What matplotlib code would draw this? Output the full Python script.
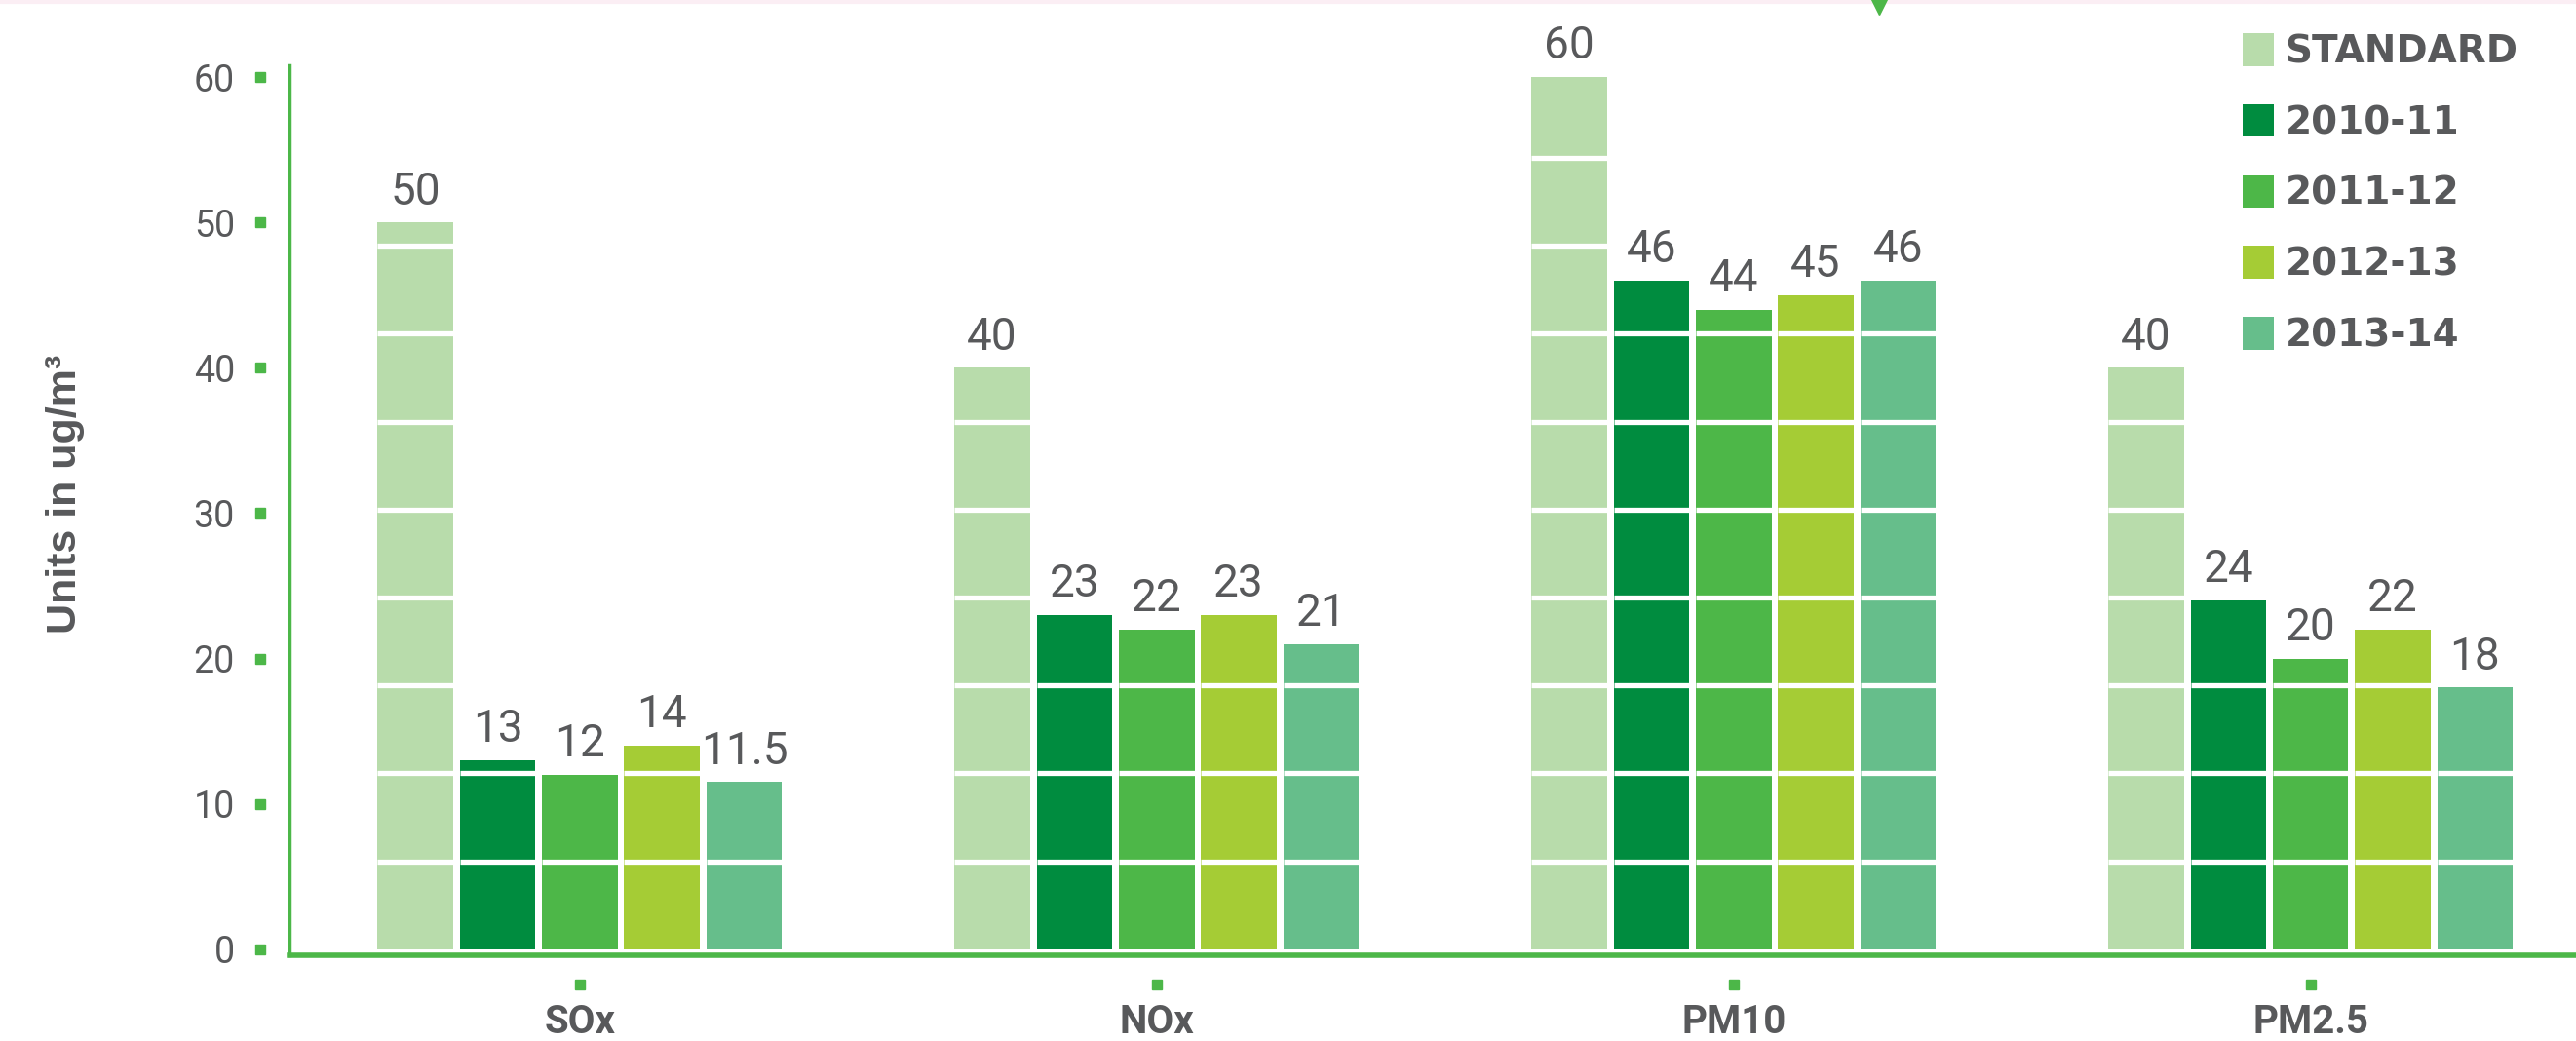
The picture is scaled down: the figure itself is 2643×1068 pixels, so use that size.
import numpy as np
import matplotlib
matplotlib.use("Agg")
import matplotlib.pyplot as plt
from matplotlib.lines import Line2D
from matplotlib.patches import Patch
from matplotlib import transforms

# 污染物年均浓度数据
pollutants = ["SOx", "NOx", "PM10", "PM2.5"]
series_names = ["STANDARD", "2010-11", "2011-12", "2012-13", "2013-14"]
standard = [50, 40, 60, 40]
y2010_11 = [13, 23, 46, 24]
y2011_12 = [12, 22, 44, 20]
y2012_13 = [14, 23, 45, 22]
y2013_14 = [11.5, 21, 46, 18]
y_ticks = [0, 10, 20, 30, 40, 50, 60]

colors = ["#b8dcab", "#008c3f", "#4db748", "#a5cc35", "#66be8b"]
axis_green = "#4cb748"
text_gray = "#58595b"
narrow = ["Roboto", "DejaVu Sans"]

all_series = [standard, y2010_11, y2011_12, y2012_13, y2013_14]

fig = plt.figure(figsize=(26.43, 10.68), dpi=100)
ax = fig.add_axes([0.1122, 0.082, 0.8878, 0.855])

x = np.arange(len(pollutants))
pitch = 0.1425
width = 0.131
stripe_step = 6.05

for i, (vals, c) in enumerate(zip(all_series, colors)):
    xs = x + (i - 2) * pitch
    ax.bar(xs, vals, width=width, color=c, linewidth=0, zorder=2)
    for xi, v in zip(xs, vals):
        # 柱内白色横条
        levels = np.arange(stripe_step, v - 0.3, stripe_step)
        ax.hlines(levels, xi - width / 2, xi + width / 2, color="white",
                  lw=3.8, zorder=3)
        label = f"{v:g}"
        ax.annotate(label, (xi, v), xytext=(0, 7), textcoords="offset points",
                    ha="center", va="bottom", fontsize=33, color=text_gray,
                    family=narrow)

ax.set_xlim(-0.504, 3.46)
ax.set_ylim(-0.45, 60.8)

for side in ["top", "right"]:
    ax.spines[side].set_visible(False)
ax.spines["left"].set_color(axis_green)
ax.spines["left"].set_linewidth(2.5)
ax.spines["bottom"].set_color(axis_green)
ax.spines["bottom"].set_linewidth(4)

ax.set_yticks(y_ticks)
ax.set_yticklabels([str(t) for t in y_ticks], fontsize=27, color=text_gray,
                   family=narrow)
ax.set_xticks(x)
ax.set_xticklabels(pollutants, fontsize=29, color=text_gray,
                   fontweight="bold", family=narrow)
ax.tick_params(axis="y", length=0, pad=40)
ax.tick_params(axis="x", length=0, pad=36)

# 刻度旁的小方块
ytr = transforms.offset_copy(ax.get_yaxis_transform(), fig, x=-21.6, units="points")
ax.plot(np.zeros(len(y_ticks)), y_ticks, "s", ms=7, color=axis_green,
        transform=ytr, clip_on=False)
xtr = transforms.offset_copy(ax.get_xaxis_transform(), fig, y=-21.6, units="points")
ax.plot(x, np.zeros(len(x)), "s", ms=7, color=axis_green,
        transform=xtr, clip_on=False)

fig.text(0.0255, 0.525, "Units in ug/m³", rotation=90, ha="center", va="center",
         fontsize=31, fontweight="bold", color=text_gray,
         family=["Liberation Sans", "DejaVu Sans"])

handles = [Patch(facecolor=c, edgecolor="none") for c in colors]
leg = fig.legend(handles, series_names, loc="upper left",
                 bbox_to_anchor=(0.8706, 0.968), frameon=False,
                 handlelength=0.82, handleheight=0.95, handletextpad=0.3,
                 labelspacing=0.89, borderpad=0, borderaxespad=0,
                 prop={"family": "DejaVu Sans", "weight": "bold", "size": 28})
for t in leg.get_texts():
    t.set_color(text_gray)

# 顶部装饰线与箭头
fig.add_artist(Line2D([0, 1], [0.998, 0.998], color="#fbeef4", lw=3,
                      transform=fig.transFigure))
fig.add_artist(Line2D([0.7295], [0.993], marker="v", ms=11, color=axis_green,
                      lw=0, transform=fig.transFigure))

fig.savefig("out.png", dpi=100)
